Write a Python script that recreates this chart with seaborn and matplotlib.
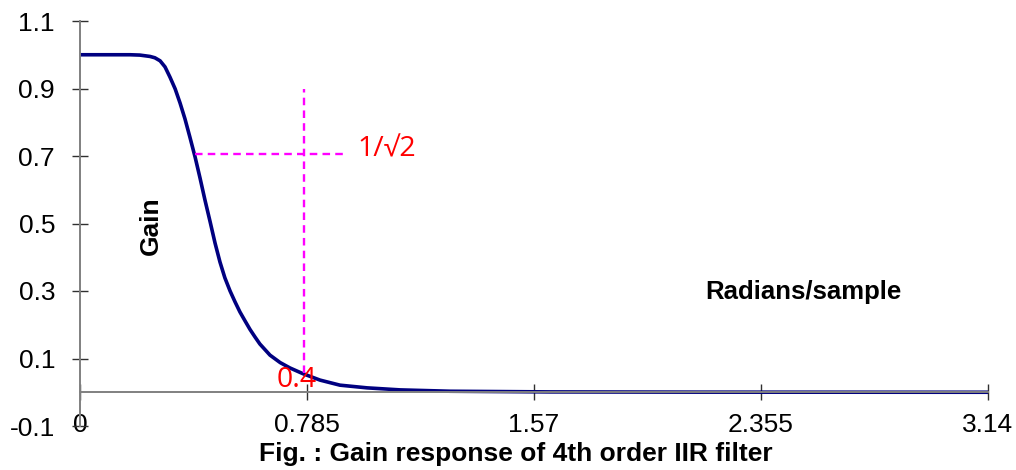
import matplotlib
matplotlib.use("Agg")
import matplotlib.pyplot as plt
import numpy as np
import pandas as pd
import seaborn as sns

# Gain response of the 4th order IIR low-pass filter (radians/sample vs gain)
freq = [0.000, 0.173, 0.207, 0.242, 0.259, 0.277, 0.294, 0.311, 0.329, 0.346,
        0.363, 0.380, 0.398, 0.415, 0.432, 0.450, 0.467, 0.484, 0.501, 0.519,
        0.536, 0.553, 0.571, 0.588, 0.605, 0.622, 0.657, 0.692, 0.726, 0.771,
        0.830, 0.899, 0.993, 1.107, 1.280, 1.625, 2.144, 3.140]
gain = [1.000, 1.000, 0.999, 0.995, 0.991, 0.982, 0.964, 0.934, 0.899, 0.857,
        0.810, 0.756, 0.697, 0.635, 0.570, 0.505, 0.442, 0.386, 0.339, 0.300,
        0.268, 0.238, 0.211, 0.186, 0.164, 0.143, 0.110, 0.088, 0.072, 0.055,
        0.036, 0.021, 0.013, 0.007, 0.003, 0.001, 0.0003, 0.000]

x_ticks = [0, 0.785, 1.57, 2.355, 3.14]
x_tick_labels = ["0", "0.785", "1.57", "2.355", "3.14"]
y_ticks = [-0.1, 0.1, 0.3, 0.5, 0.7, 0.9, 1.1]
y_tick_labels = ["-0.1", "0.1", "0.3", "0.5", "0.7", "0.9", "1.1"]

# Half-power (cut-off) marker lines
half_power = 1 / np.sqrt(2)
h_line_x = [0.396, 0.916]
v_line_x = 0.775
v_line_y = [0.058, 0.9]

df = pd.DataFrame({"freq": freq, "gain": gain})

sns.set_theme(style="white")
plt.rcParams["font.family"] = ["Liberation Sans", "DejaVu Sans"]
plt.rcParams["text.color"] = "black"

W, H = 1016, 470
fig = plt.figure(figsize=(W / 100, H / 100), dpi=100)
ax = fig.add_axes([80 / W, 44 / H, 908 / W, 405 / H])

sns.lineplot(data=df, x="freq", y="gain", ax=ax, color="#000080",
             linewidth=2.6, legend=False, solid_joinstyle="round",
             solid_capstyle="round")

magenta = "#FF00FF"
ax.plot(h_line_x, [half_power, half_power], color=magenta, linewidth=1.7,
        dashes=(3.2, 2.2))
ax.plot([v_line_x, v_line_x], v_line_y, color=magenta, linewidth=1.7,
        dashes=(3.2, 2.2))

ax.set_xlim(0, 3.14)
ax.set_ylim(-0.1, 1.1)
ax.set_xticks(x_ticks)
ax.set_xticklabels(x_tick_labels)
ax.set_yticks(y_ticks)
ax.set_yticklabels(y_tick_labels)
ax.set_xlabel("")
ax.set_ylabel("")

for side in ("top", "right"):
    ax.spines[side].set_visible(False)
ax.spines["bottom"].set_position(("data", 0))
for side in ("left", "bottom"):
    ax.spines[side].set_color("#808080")
    ax.spines[side].set_linewidth(1.4)

ax.tick_params(axis="both", which="major", bottom=True, left=True,
               direction="inout", length=11, width=1, color="#303030",
               labelsize=19, labelcolor="black")
ax.tick_params(axis="x", pad=9.5)
ax.tick_params(axis="y", pad=12.5)

# Annotations
red = "#FF0000"
ax.text(0.750, 0.036, "0.4", color=red, fontsize=20.5, ha="center",
        va="center", family=["Open Sans", "DejaVu Sans"])
ax.text(1.062, 0.718, "1/\u221a2", color=red, fontsize=20.5, ha="center",
        va="center", family=["Open Sans", "DejaVu Sans"])

fig.text(151 / W, 1 - 226 / H, "Gain", rotation=90, fontsize=19,
         fontweight="bold", ha="center", va="center")
fig.text(803 / W, 1 - 292 / H, "Radians/sample", fontsize=18.5,
         fontweight="bold", ha="center", va="center")
fig.text(516 / W, 1 - 454 / H, "Fig. : Gain response of 4th order IIR filter",
         fontsize=19, fontweight="bold", ha="center", va="center")

fig.savefig("out.png", dpi=100)
